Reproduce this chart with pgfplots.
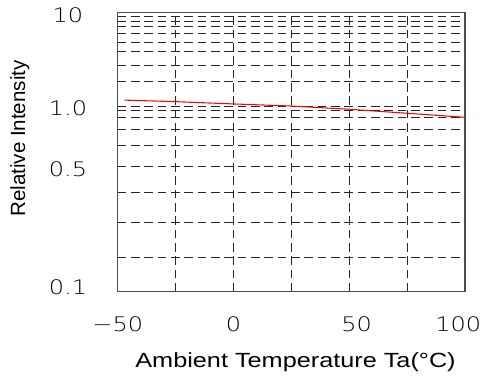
\documentclass[border=0pt]{standalone}
\usepackage{fontspec}
\setmainfont{Liberation Sans}
\newfontfamily\labfont[FakeStretch=1.23]{Liberation Sans}
\newfontfamily\ticfont[FakeStretch=1.2]{DejaVu Sans ExtraLight}
\usepackage{pgfplots}
\pgfplotsset{compat=1.18}
% value/position pairs of the chart's own (non-uniform) y scale
\def\trafosegs{0.1/0/0.2/34.7,0.2/34.7/0.3/69.4,0.3/69.4/0.4/99.7,0.4/99.7/0.5/125.4,0.5/125.4/0.6/146.7,0.6/146.7/0.7/162.4,0.7/162.4/0.8/174.4,0.8/174.4/0.9/181,0.9/181/1/185.7,1/185.7/2/210.4,2/210.4/3/226.4,3/226.4/4/240.4,4/240.4/5/249.7,5/249.7/6/258.4,6/258.4/7/265,7/265/8/270.7,8/270.7/9/275.7,9/275.7/10/279}
\newcommand\tofixed{\pgfmathfloatparsenumber{\pgfmathresult}\pgfmathfloattofixed{\pgfmathresult}}
\begin{document}
\begin{tikzpicture}
\path[use as bounding box] (-88.3pt,-62.5pt) rectangle (271.75pt,218.8pt);
\begin{axis}[
  at={(0,0)}, anchor=south west, scale only axis,
  width=260.5pt, height=209.25pt,
  xmin=-50, xmax=100, ymin=0.1, ymax=10,
  y coord trafo/.code={%
    \pgfmathfloatparsenumber{#1}%
    \pgfmathfloattofixed{\pgfmathresult}%
    \let\myv\pgfmathresult
    \gdef\myres{0}%
    \foreach \a/\pa/\b/\pb in \trafosegs {%
      \pgfmathparse{and(\myv>=\a-0.00001,\myv<=\b+0.00001)}\tofixed
      \ifdim\pgfmathresult pt>0.5pt
        \pgfmathparse{\pa+(ln(\myv)-ln(\a))/(ln(\b)-ln(\a))*(\pb-\pa)}\tofixed
        \global\let\myres\pgfmathresult
      \fi
    }%
    \let\pgfmathresult\myres
  },
  xtick={-50,-25,0,25,50,75,100},
  xticklabels={−50,,0,,\makebox[0pt]{\hspace*{11pt}50},,\makebox[0pt]{\hspace*{-10pt}100}},
  ytick={0.1,0.2,0.3,0.4,0.5,0.6,0.7,0.8,0.9,1,2,3,4,5,6,7,8,9,10},
  yticklabels={\raisebox{5.6pt}[\height][\depth]{0.1},,,,0.5,,,,,1.0,,,,,,,,,10},
  major tick length=0pt,
  grid=major,
  major grid style={black!85, line width=0.75pt, dash pattern=on 6.5pt off 3.5pt},
  axis line style={black!70, line width=1pt},
  ticklabel style={font=\ticfont\fontsize{15}{18}\selectfont},
  xticklabel style={anchor=north, inner sep=0pt, yshift=-18.75pt},
  yticklabel style={anchor=center, inner sep=0pt, xshift=-37.3pt, yshift=-1.9pt},
  xlabel={Ambient Temperature Ta(°C)},
  ylabel={Relative Intensity},
  xlabel style={font=\labfont\fontsize{15.4}{18}\selectfont, at={([yshift=-56.7pt]axis description cs:0.512,0)}, anchor=base},
  ylabel style={font=\fontsize{15.4}{18}\selectfont, at={([xshift=-69.5pt]axis description cs:0,0.549)}, anchor=base},
]
\addplot[red, line width=0.8pt] coordinates {(-47,1.18) (-25,1.13) (0,1.06) (25,1.0) (50,0.93) (75,0.86) (100,0.8)};
\end{axis}
\end{tikzpicture}
\end{document}
